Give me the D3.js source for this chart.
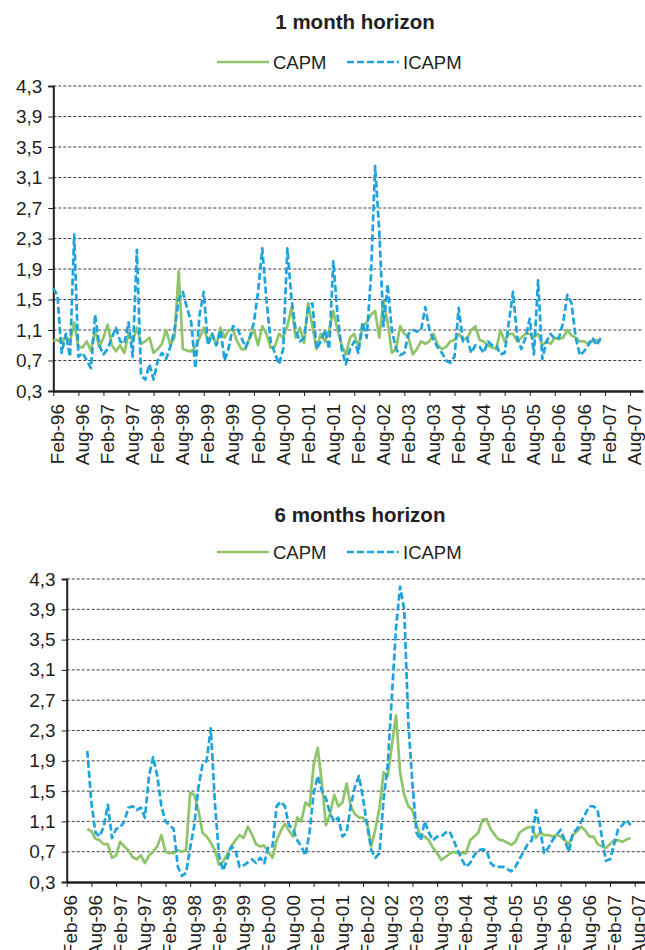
<!DOCTYPE html>
<html>
<head>
<meta charset="utf-8">
<script src="https://cdn.jsdelivr.net/npm/d3@7"></script>
<style>
  body { margin: 0; background: #fff; }
  svg text { font-family: "Liberation Sans", Arial, Helvetica, sans-serif; fill: #231f20; }
</style>
</head>
<body>
<div id="chart"></div>
<script>
// tick labels on the x axis, every 6 months starting Feb-96
const tickLabels = ["Feb-96","Aug-96","Feb-97","Aug-97","Feb-98","Aug-98","Feb-99","Aug-99",
  "Feb-00","Aug-00","Feb-01","Aug-01","Feb-02","Aug-02","Feb-03","Aug-03",
  "Feb-04","Aug-04","Feb-05","Aug-05","Feb-06","Aug-06","Feb-07","Aug-07"];
const yTicks = [0.3, 0.7, 1.1, 1.5, 1.9, 2.3, 2.7, 3.1, 3.5, 3.9, 4.3];
const seriesNames = ["CAPM", "ICAPM"];

// 1 month horizon: monthly values, Feb-96 .. Jan-07
const firstMonth1m = 0;
const capm1m = [0.96,0.97,0.93,1.02,0.95,1.2,0.88,0.87,0.95,0.83,1.1,0.88,1.0,1.17,0.9,0.82,0.9,0.8,1.05,0.95,
  1.13,0.92,0.95,1.0,0.8,0.85,0.92,1.1,0.9,1.0,1.87,0.85,0.83,0.82,0.88,1.0,
  1.13,0.95,1.05,0.9,1.13,1.0,1.1,1.1,0.95,0.85,0.85,1.0,1.1,0.9,1.15,1.05,0.87,0.88,1.05,1.0,
  1.15,1.4,1.0,1.13,0.93,1.45,1.15,0.85,1.05,0.95,1.1,1.35,1.1,0.9,0.78,1.0,1.05,0.87,1.15,1.2,
  1.3,1.35,1.0,1.48,1.2,0.8,0.85,1.15,1.05,1.0,0.78,
  0.85,0.95,0.92,0.95,1.05,0.9,0.85,0.88,0.95,0.97,1.05,0.98,0.98,1.1,1.15,0.97,0.95,0.9,0.87,0.85,
  1.1,0.95,1.05,1.05,0.95,1.0,1.05,1.05,1.0,1.05,0.9,0.95,0.92,1.0,0.98,1.0,1.1,1.03,1.0,0.95,
  0.95,0.92,0.95,0.97,0.95];
const icapm1m = [1.65,1.55,0.8,1.05,0.75,2.35,0.75,0.8,0.7,0.6,1.3,0.9,0.78,0.85,1.0,1.13,0.95,0.92,1.2,0.75,
  2.15,0.5,0.45,0.65,0.45,0.7,0.8,0.72,0.88,1.1,1.5,1.6,1.39,1.2,0.6,1.3,
  1.6,0.9,1.05,0.9,1.1,0.7,0.87,1.15,1.12,1.0,0.87,1.0,1.2,1.6,2.17,1.5,0.95,0.8,0.65,0.85,
  2.17,1.5,1.1,0.95,1.0,1.4,1.45,0.85,0.95,1.1,0.85,2.0,1.3,0.85,0.65,0.85,0.95,0.8,1.2,1.0,
  1.8,3.25,2.4,1.15,1.7,1.1,0.85,0.77,0.8,1.05,1.1,
  1.08,1.1,1.4,1.1,0.97,0.87,0.8,0.7,0.67,0.75,1.39,0.95,1.0,0.8,0.9,0.88,0.8,0.95,0.9,0.9,
  0.78,0.8,1.2,1.6,1.0,0.85,1.0,1.25,0.78,1.75,0.72,0.95,1.05,0.98,1.0,1.2,1.56,1.45,1.0,0.77,
  0.82,0.9,1.0,0.9,1.0];

// 6 months horizon: monthly values, Jul-96 .. Jul-07
const firstMonth6m = 5;
const capm6m = [1.0,0.97,0.87,0.85,0.8,0.8,0.62,0.65,0.83,0.77,0.72,0.63,0.6,0.65,0.55,0.65,0.7,0.77,0.92,0.7,
  0.68,0.68,0.72,0.7,0.72,1.48,1.45,1.25,0.95,0.9,0.82,0.72,0.53,0.57,0.67,0.77,0.85,0.92,0.88,1.03,
  0.93,0.8,0.77,0.78,0.7,0.62,0.85,0.97,1.07,0.98,0.9,1.15,1.1,1.35,1.3,1.85,2.07,1.6,1.05,1.2,
  1.45,1.3,1.35,1.6,1.3,1.2,1.15,1.15,1.08,0.77,1.0,1.28,1.75,1.7,2.1,2.5,1.75,1.45,1.3,1.25,
  1.05,0.9,
  0.9,0.85,0.75,0.68,0.59,0.63,0.67,0.7,0.68,0.68,0.68,0.85,0.9,0.95,1.12,1.13,1.0,0.92,0.86,0.85,
  0.82,0.79,0.83,0.95,0.99,1.02,1.03,0.88,0.95,0.92,0.92,0.9,0.92,0.9,0.85,0.8,0.92,0.97,1.03,0.98,
  0.9,0.9,0.8,0.77,0.75,0.8,0.85,0.85,0.83,0.86,0.88];
const icapm6m = [2.03,1.35,0.95,0.9,1.03,1.32,0.88,1.0,1.02,1.1,1.28,1.3,1.25,1.28,1.15,1.7,1.95,1.7,1.3,1.1,
  1.05,1.0,0.5,0.38,0.42,0.75,1.05,1.55,1.85,1.9,2.33,1.35,0.65,0.45,0.6,0.77,0.72,0.5,0.52,0.56,
  0.6,0.55,0.62,0.55,0.77,0.77,1.3,1.36,1.3,1.05,1.0,0.85,0.77,0.65,0.95,1.47,1.7,1.5,1.4,1.2,
  1.1,1.15,0.9,0.95,1.3,1.55,1.7,1.4,1.05,0.72,0.62,0.68,1.4,1.85,2.75,3.65,4.2,3.9,2.4,1.6,
  0.95,0.85,
  1.1,0.95,0.85,0.9,0.9,0.95,0.97,0.85,0.72,0.6,0.5,0.55,0.65,0.72,0.73,0.72,0.55,0.5,0.5,0.5,
  0.47,0.44,0.5,0.6,0.7,0.8,0.85,1.25,1.0,0.68,0.75,0.85,0.92,0.99,0.85,0.7,0.95,1.0,1.1,1.2,
  1.3,1.3,1.25,0.9,0.58,0.6,0.8,1.0,1.05,1.12,1.05];

const width = 645, height = 950;
const green = "#8fc46a", blue = "#1ea3dd";

const svg = d3.select("#chart").append("svg")
  .attr("width", width)
  .attr("height", height);

const fmt = v => v.toFixed(1).replace(".", ",");

function drawChart(opt) {
  const g = svg.append("g");

  const x = d3.scaleLinear().domain([0, opt.lastMonth]).range([opt.left, opt.right]);
  const y = d3.scaleLinear().domain([0.3, 4.3]).range([opt.bottom, opt.top]);

  // title
  g.append("text")
    .attr("x", opt.titleX)
    .attr("y", opt.titleY)
    .attr("text-anchor", "middle")
    .attr("font-size", 20.5)
    .attr("font-weight", "bold")
    .text(opt.title);

  // legend
  const leg = [
    { name: seriesNames[0], color: green, dash: null, x0: 217 },
    { name: seriesNames[1], color: blue, dash: "7,3", x0: 347 }
  ];
  leg.forEach(l => {
    g.append("line")
      .attr("x1", l.x0).attr("x2", l.x0 + 52)
      .attr("y1", opt.legendY).attr("y2", opt.legendY)
      .attr("stroke", l.color)
      .attr("stroke-width", 2.7)
      .attr("stroke-dasharray", l.dash);
    g.append("text")
      .attr("x", l.x0 + 56)
      .attr("y", opt.legendY)
      .attr("dy", "0.36em")
      .attr("font-size", 18.5)
      .text(l.name);
  });

  // dashed gridlines
  g.append("g")
    .selectAll("line")
    .data(yTicks.slice(1))
    .join("line")
    .attr("x1", opt.left).attr("x2", opt.right)
    .attr("y1", d => y(d)).attr("y2", d => y(d))
    .attr("stroke", "#3c3c3c")
    .attr("stroke-width", 1)
    .attr("stroke-dasharray", "3,2");

  // y axis
  const ya = g.append("g")
    .attr("transform", `translate(${opt.left},0)`)
    .call(d3.axisLeft(y).tickValues(yTicks).tickFormat(fmt).tickSize(5).tickPadding(6));
  ya.select(".domain").attr("stroke", "#231f20").attr("stroke-width", 2);
  ya.selectAll(".tick line").attr("stroke", "#231f20");
  ya.selectAll(".tick text")
    .attr("font-size", 19)
    .attr("font-family", null)
    .attr("fill", "#231f20");

  // x axis
  const tickMonths = tickLabels.map((d, i) => i * 6);
  const xa = g.append("g")
    .attr("transform", `translate(0,${opt.bottom})`)
    .call(d3.axisBottom(x).tickValues(tickMonths).tickFormat((d, i) => tickLabels[i]).tickSize(5).tickSizeOuter(0));
  xa.select(".domain").attr("stroke", "#231f20").attr("stroke-width", 2.5);
  xa.selectAll(".tick line").attr("stroke", "#231f20");
  xa.selectAll(".tick text")
    .attr("font-size", 19)
    .attr("font-family", null)
    .attr("fill", "#231f20")
    .attr("transform", "rotate(-90)")
    .attr("text-anchor", "end")
    .attr("x", -13)
    .attr("y", 3.5)
    .attr("dy", "0.35em");

  // series
  const line = d3.line()
    .x(d => x(d.m))
    .y(d => y(d.v));
  const toPts = (arr, start) => arr.map((v, i) => ({ m: start + i, v: v }));

  g.append("path")
    .datum(toPts(opt.capm, opt.start))
    .attr("fill", "none")
    .attr("stroke", green)
    .attr("stroke-width", 2.7)
    .attr("stroke-linejoin", "round")
    .attr("d", line);

  g.append("path")
    .datum(toPts(opt.icapm, opt.start))
    .attr("fill", "none")
    .attr("stroke", blue)
    .attr("stroke-width", 2.7)
    .attr("stroke-dasharray", "7,3")
    .attr("stroke-linejoin", "round")
    .attr("d", line);
}

drawChart({
  title: "1 month horizon", titleX: 355, titleY: 29, legendY: 62,
  left: 53.3, right: 643, top: 86, bottom: 391, lastMonth: 141.1,
  capm: capm1m, icapm: icapm1m, start: firstMonth1m
});

drawChart({
  title: "6 months horizon", titleX: 360, titleY: 522, legendY: 552,
  left: 66.7, right: 645, top: 579, bottom: 882, lastMonth: 140.5,
  capm: capm6m, icapm: icapm6m, start: firstMonth6m
});
</script>
</body>
</html>
